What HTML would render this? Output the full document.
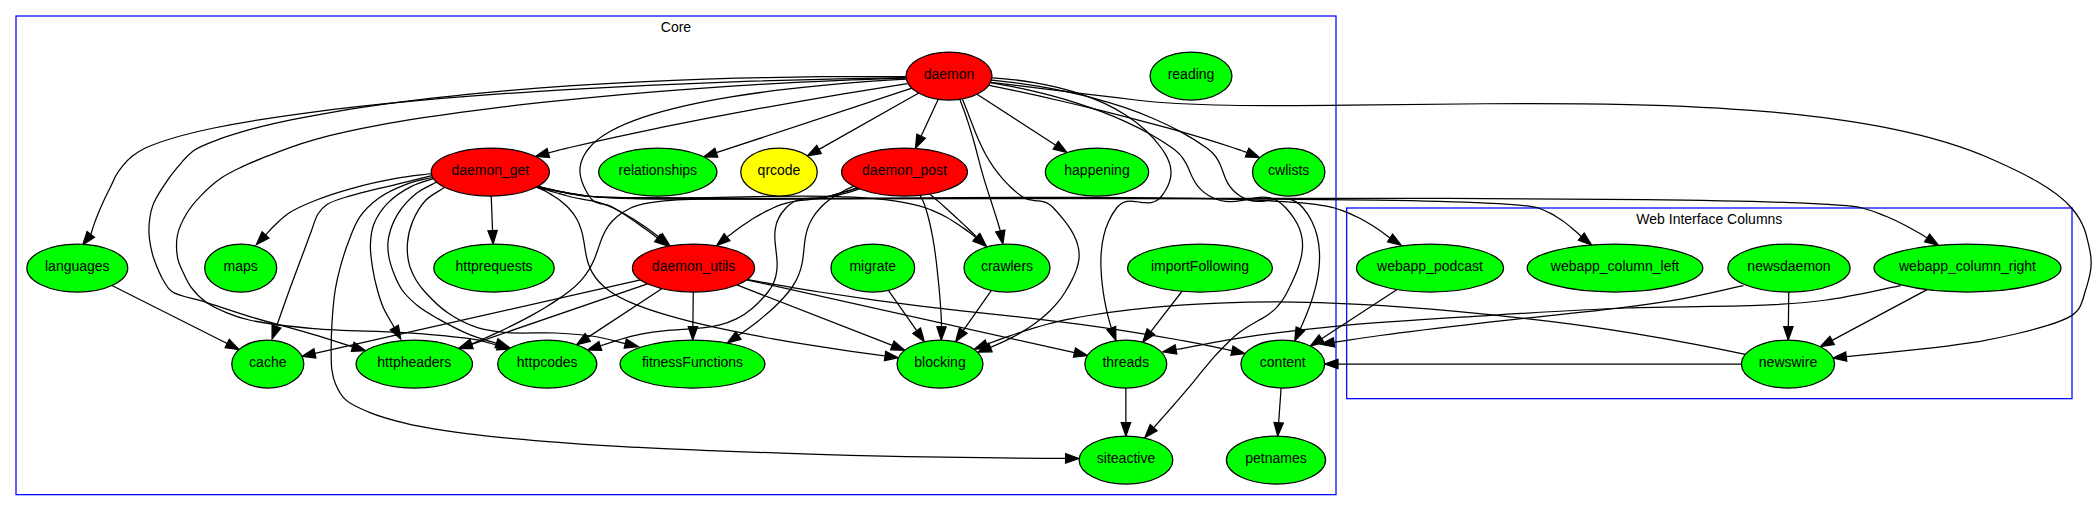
<!DOCTYPE html>
<html><head><meta charset="utf-8"><title>EpicyonGroups</title>
<style>html,body{margin:0;padding:0;background:#fff}svg{display:block}text{font-family:"Liberation Sans","DejaVu Sans",sans-serif;font-size:14px;fill:#000}</style></head>
<body>
<svg width="2097" height="511" viewBox="0 0 2097 511">
<rect width="2097" height="511" fill="#fff"/>
<rect x="16.00" y="16.00" width="1320.00" height="478.67" fill="none" stroke="#0000ff" stroke-width="1.25"/>
<text x="676.00" y="32.00" text-anchor="middle">Core</text>
<rect x="1346.67" y="208.00" width="725.33" height="190.67" fill="none" stroke="#0000ff" stroke-width="1.25"/>
<text x="1709.33" y="224.00" text-anchor="middle">Web Interface Columns</text>
<g fill="none" stroke="#000" stroke-width="1.25">
<path d="M1927.05,289.64 L1832.08,340.42"/>
<path d="M647.52,283.81 L471.59,344.30"/>
<path d="M693.25,292.00 L692.89,326.67"/>
<path d="M736.89,284.90 L892.31,345.43"/>
<path d="M662.12,288.59 L587.77,337.38"/>
<path d="M640.51,279.95 L314.91,353.38"/>
<path d="M747.66,279.57 C750.45,280.08 753.30,280.60 756.20,281.13 759.10,281.66 762.04,282.19 765.03,282.72 768.01,283.25 771.03,283.79 774.07,284.32 777.11,284.86 780.17,285.39 783.25,285.93 786.33,286.46 789.42,286.99 792.50,287.51 795.59,288.04 798.67,288.55 801.75,289.06 804.82,289.57 807.88,290.08 810.91,290.57 813.95,291.06 816.96,291.53 819.93,292.00 839.80,295.11 857.84,297.76 874.51,300.07 891.17,302.37 906.46,304.34 920.83,306.08 935.20,307.83 948.65,309.35 961.64,310.78 974.62,312.20 987.15,313.53 999.67,314.88 1012.19,316.23 1024.71,317.60 1037.68,319.12 1050.65,320.64 1064.08,322.31 1078.41,324.24 1092.75,326.17 1107.99,328.37 1124.60,330.95 1141.22,333.54 1159.20,336.51 1179.00,340.00 1181.15,340.38 1183.31,340.77 1185.49,341.17 1187.68,341.57 1189.87,341.98 1192.08,342.41 1194.29,342.83 1196.51,343.26 1198.73,343.70 1200.95,344.14 1203.17,344.59 1205.39,345.04 1207.61,345.49 1209.82,345.95 1212.02,346.41 1214.23,346.87 1216.42,347.33 1218.60,347.80 1220.78,348.26 1222.94,348.73 1225.07,349.19 1227.21,349.66 1229.32,350.12 1231.40,350.59"/>
<path d="M746.69,279.81 L1074.49,352.60"/>
<path d="M537.46,186.44 C539.30,186.92 541.17,187.39 543.07,187.87 544.96,188.34 546.88,188.80 548.83,189.26 550.77,189.72 552.73,190.17 554.71,190.61 556.69,191.05 558.69,191.48 560.69,191.89 562.69,192.31 564.71,192.71 566.72,193.09 568.74,193.48 570.76,193.84 572.78,194.19 574.80,194.54 576.82,194.86 578.83,195.16 580.85,195.47 582.85,195.75 584.84,196.00 594.86,197.28 612.92,198.08 637.01,198.55 661.10,199.02 691.22,199.16 725.34,199.10 759.46,199.05 797.58,198.80 837.68,198.51 877.78,198.21 919.86,197.87 961.90,197.62 1003.94,197.36 1045.93,197.20 1085.85,197.27 1125.77,197.34 1163.63,197.64 1197.39,198.32 1231.15,199.00 1260.82,200.05 1284.38,201.61 1307.94,203.18 1325.38,205.26 1334.68,208.00 1337.27,208.76 1339.83,209.62 1342.37,210.55 1344.91,211.49 1347.42,212.50 1349.89,213.59 1352.37,214.67 1354.81,215.82 1357.22,217.03 1359.63,218.24 1361.99,219.50 1364.32,220.81 1366.64,222.11 1368.92,223.46 1371.15,224.84 1373.38,226.22 1375.56,227.63 1377.69,229.06 1379.82,230.49 1381.89,231.94 1383.90,233.39 1385.92,234.84 1387.87,236.30 1389.76,237.75"/>
<path d="M537.46,186.51 C539.44,186.98 541.44,187.46 543.47,187.93 545.51,188.40 547.56,188.87 549.64,189.33 551.71,189.78 553.81,190.23 555.91,190.67 558.02,191.11 560.14,191.54 562.26,191.95 564.39,192.36 566.52,192.76 568.64,193.14 570.77,193.52 572.90,193.88 575.02,194.22 577.14,194.56 579.26,194.89 581.36,195.18 583.46,195.48 585.54,195.75 587.61,196.00 596.40,197.05 621.83,197.74 659.76,198.19 697.68,198.63 748.08,198.82 806.81,198.88 865.53,198.93 932.57,198.84 1003.77,198.72 1074.96,198.59 1150.31,198.44 1225.64,198.36 1300.97,198.28 1376.28,198.28 1447.42,198.46 1518.55,198.64 1585.50,199.01 1644.11,199.66 1702.71,200.32 1752.97,201.27 1790.72,202.63 1828.46,203.98 1853.69,205.74 1862.24,208.00 1865.09,208.75 1867.93,209.60 1870.77,210.53 1873.62,211.46 1876.45,212.47 1879.28,213.55 1882.10,214.63 1884.91,215.77 1887.70,216.98 1890.49,218.18 1893.25,219.44 1895.99,220.74 1898.72,222.05 1901.43,223.40 1904.09,224.77 1906.75,226.15 1909.37,227.56 1911.95,228.99 1914.52,230.42 1917.04,231.87 1919.51,233.32 1921.97,234.77 1924.38,236.23 1926.71,237.68"/>
<path d="M536.45,187.08 C537.73,187.45 539.03,187.83 540.33,188.21 541.63,188.58 542.94,188.96 544.25,189.34 545.56,189.72 546.87,190.09 548.19,190.47 549.51,190.85 550.83,191.23 552.14,191.60 553.46,191.98 554.78,192.36 556.09,192.73 557.40,193.10 558.71,193.47 560.01,193.84 561.31,194.21 562.61,194.57 563.90,194.93 565.18,195.29 566.46,195.65 567.73,196.00 570.25,196.70 572.55,197.27 574.69,197.75 576.83,198.24 578.81,198.63 580.67,198.97 582.54,199.32 584.29,199.61 585.98,199.89 587.67,200.17 589.30,200.44 590.93,200.73 592.55,201.02 594.16,201.34 595.81,201.73 597.47,202.12 599.16,202.57 600.95,203.12 602.73,203.68 604.61,204.33 606.64,205.13 608.66,205.93 610.83,206.88 613.19,208.00 615.20,208.96 617.22,209.97 619.23,211.02 621.24,212.07 623.25,213.17 625.25,214.31 627.25,215.44 629.24,216.62 631.21,217.82 633.19,219.02 635.15,220.25 637.09,221.51 639.03,222.76 640.96,224.03 642.85,225.32 644.75,226.61 646.63,227.91 648.47,229.22 650.31,230.53 652.13,231.84 653.90,233.15 655.68,234.47 657.42,235.78 659.13,237.08"/>
<path d="M491.22,196.00 L492.56,230.68"/>
<path d="M536.79,187.11 C538.25,187.75 539.70,188.43 541.15,189.13 542.60,189.83 544.04,190.55 545.47,191.31 546.89,192.06 548.31,192.84 549.71,193.65 551.10,194.46 552.48,195.30 553.84,196.16 555.19,197.03 556.52,197.93 557.82,198.85 559.12,199.78 560.39,200.73 561.62,201.72 562.85,202.70 564.05,203.72 565.20,204.76 566.36,205.81 567.47,206.89 568.53,208.00 571.96,211.57 574.58,215.17 576.61,218.77 578.65,222.37 580.11,225.99 581.20,229.60 582.32,233.21 583.07,236.82 583.67,240.42 584.32,244.02 584.82,247.60 585.40,251.16 586.03,254.72 586.74,258.26 587.74,261.76 588.80,265.26 590.16,268.72 592.01,272.14 593.92,275.56 596.31,278.93 599.38,282.24 602.49,285.56 606.26,288.81 610.90,292.00 616.51,295.82 623.72,299.51 632.22,303.08 640.74,306.64 650.53,310.08 661.26,313.37 672.01,316.67 683.69,319.82 695.97,322.83 708.26,325.84 721.15,328.70 734.31,331.41 747.47,334.11 760.90,336.67 774.28,339.05 787.65,341.44 800.97,343.66 813.92,345.72 826.86,347.77 839.44,349.65 851.31,351.35 863.18,353.05 874.36,354.57 884.53,355.91"/>
<path d="M537.46,186.48 C539.29,186.96 541.15,187.43 543.04,187.91 544.93,188.38 546.85,188.84 548.78,189.30 550.72,189.76 552.68,190.21 554.65,190.65 556.62,191.08 558.61,191.51 560.61,191.92 562.61,192.34 564.62,192.74 566.63,193.12 568.65,193.50 570.66,193.86 572.68,194.21 574.70,194.55 576.71,194.87 578.72,195.17 580.73,195.47 582.73,195.75 584.72,196.00 591.08,196.80 610.03,197.34 638.42,197.69 666.81,198.05 704.64,198.23 748.75,198.31 792.85,198.40 843.24,198.39 896.74,198.37 950.25,198.35 1006.87,198.32 1063.46,198.36 1120.04,198.41 1176.59,198.53 1229.93,198.82 1283.28,199.10 1333.43,199.55 1377.22,200.24 1421.01,200.93 1458.44,201.86 1486.35,203.13 1514.27,204.39 1532.67,205.99 1538.39,208.00 1540.48,208.74 1542.55,209.56 1544.57,210.46 1546.60,211.36 1548.59,212.33 1550.55,213.37 1552.50,214.41 1554.42,215.51 1556.29,216.66 1558.17,217.81 1560.00,219.02 1561.80,220.27 1563.59,221.52 1565.34,222.81 1567.05,224.13 1568.75,225.45 1570.41,226.80 1572.02,228.17 1573.64,229.54 1575.20,230.92 1576.72,232.32 1578.24,233.72 1579.70,235.12 1581.12,236.52"/>
<path d="M537.98,186.37 C539.94,186.84 541.92,187.32 543.93,187.78 545.94,188.25 547.98,188.71 550.03,189.16 552.08,189.62 554.15,190.07 556.23,190.50 558.31,190.94 560.40,191.37 562.50,191.79 564.60,192.20 566.70,192.61 568.80,192.99 570.90,193.38 573.00,193.75 575.10,194.11 577.19,194.46 579.27,194.80 581.35,195.12 583.42,195.43 585.48,195.73 587.51,196.00 596.83,197.24 608.00,197.98 620.55,198.36 633.10,198.75 647.03,198.79 661.87,198.63 676.72,198.47 692.47,198.11 708.67,197.72 724.87,197.32 741.51,196.89 758.12,196.56 774.73,196.24 791.32,196.03 807.40,196.09 823.49,196.15 839.07,196.47 853.69,197.22 868.31,197.97 881.96,199.14 894.18,200.88 906.39,202.63 917.16,204.95 926.03,208.00 928.30,208.78 930.55,209.65 932.79,210.59 935.03,211.53 937.26,212.55 939.46,213.62 941.66,214.70 943.84,215.85 946.00,217.04 948.16,218.24 950.29,219.48 952.38,220.77 954.48,222.05 956.55,223.38 958.57,224.74 960.60,226.09 962.59,227.47 964.54,228.87 966.49,230.27 968.39,231.69 970.25,233.11 972.10,234.54 973.91,235.96 975.67,237.39"/>
<path d="M1788.75,292.00 L1788.39,326.67"/>
<path d="M1745.24,354.39 C1731.46,351.47 1714.67,348.05 1695.37,344.39 1676.06,340.73 1654.22,336.82 1630.35,332.92 1606.42,329.01 1579.39,325.10 1549.88,321.45 1519.91,317.79 1488.31,314.38 1456.10,311.46 1424.19,308.54 1391.87,306.12 1359.54,304.44 1333.36,302.76 1311.83,301.82 1278.90,301.87 1245.37,301.92 1212.75,302.95 1180.47,305.23 1148.16,307.50 1116.51,311.01 1085.99,316.00 1081.82,316.68 1077.57,317.46 1073.13,318.33 1068.47,319.20 1063.85,320.16 1059.30,321.19 1054.83,322.23 1050.44,323.33 1046.21,324.49 1041.98,325.65 1037.77,326.87 1033.61,328.13 1029.44,329.39 1025.31,330.69 1021.24,332.02 1017.17,333.34 1013.18,334.70 1009.26,336.06 1005.35,337.42 1001.53,338.79 997.82,340.15 994.11,341.52 990.50,342.88 987.03,344.21"/>
<path d="M1741.39,364.00 L1338.00,364.00"/>
<path d="M111.94,285.45 L227.18,343.53"/>
<path d="M859.51,188.87 C858.50,189.22 857.49,189.57 856.46,189.91 855.43,190.25 854.39,190.59 853.35,190.92 852.30,191.26 851.25,191.58 850.19,191.90 849.14,192.22 848.07,192.53 847.00,192.84 845.93,193.14 844.86,193.44 843.78,193.72 842.70,194.01 841.62,194.28 840.54,194.55 839.45,194.81 838.37,195.07 837.28,195.31 836.19,195.55 835.10,195.78 834.02,196.00 828.86,197.03 822.34,197.72 814.81,198.19 807.29,198.66 798.76,198.89 789.58,199.00 780.40,199.11 770.57,199.08 760.44,199.02 750.31,198.97 739.88,198.88 729.52,198.85 719.15,198.82 708.84,198.87 698.94,199.07 689.04,199.28 679.55,199.64 670.83,200.28 662.12,200.91 654.17,201.80 647.34,203.05 640.52,204.31 634.82,205.93 630.61,208.00 625.19,210.67 620.80,213.51 617.18,216.50 613.57,219.49 610.73,222.62 608.43,225.87 606.12,229.13 604.33,232.50 602.84,235.97 601.32,239.43 600.07,243.00 598.86,246.63 597.60,250.26 596.36,253.97 594.90,257.72 593.38,261.46 591.62,265.26 589.39,269.07 587.10,272.89 584.35,276.72 580.93,280.55 577.47,284.38 573.34,288.21 568.32,292.00 564.76,294.68 561.03,297.31 557.19,299.88 553.34,302.45 549.37,304.96 545.32,307.41 541.27,309.87 537.13,312.25 532.95,314.58 528.77,316.90 524.55,319.16 520.31,321.35 516.08,323.53 511.84,325.65 507.63,327.69 503.42,329.73 499.24,331.70 495.12,333.59 491.00,335.48 486.95,337.29 482.98,339.02 479.02,340.75 475.16,342.40 471.42,343.96"/>
<path d="M853.51,186.33 C851.98,186.97 850.45,187.64 848.93,188.34 847.41,189.04 845.90,189.77 844.40,190.54 842.90,191.30 841.42,192.10 839.95,192.93 838.49,193.75 837.04,194.62 835.62,195.51 834.20,196.41 832.81,197.34 831.45,198.31 830.09,199.27 828.76,200.27 827.47,201.31 826.17,202.35 824.92,203.43 823.71,204.54 822.50,205.66 821.33,206.81 820.21,208.00 816.87,211.56 814.27,215.05 812.22,218.49 810.18,221.92 808.69,225.30 807.59,228.66 806.47,232.02 805.74,235.35 805.21,238.68 804.66,242.01 804.32,245.35 803.99,248.70 803.65,252.06 803.32,255.45 802.84,258.89 802.33,262.33 801.65,265.82 800.62,269.40 799.56,272.97 798.14,276.62 796.19,280.38 794.20,284.14 791.68,288.00 788.45,292.00 786.73,294.10 784.94,296.18 783.08,298.21 781.22,300.25 779.28,302.26 777.30,304.22 775.31,306.19 773.26,308.13 771.18,310.02 769.10,311.92 766.97,313.77 764.82,315.59 762.67,317.40 760.50,319.18 758.31,320.91 756.12,322.65 753.92,324.34 751.71,325.98 749.51,327.63 747.31,329.23 745.12,330.79 742.93,332.34 740.76,333.85 738.61,335.31"/>
<path d="M857.67,188.24 C856.53,188.58 855.38,188.92 854.23,189.26 853.08,189.60 851.92,189.94 850.76,190.28 849.60,190.62 848.44,190.95 847.28,191.28 846.11,191.62 844.95,191.95 843.79,192.27 842.62,192.60 841.46,192.93 840.30,193.25 839.14,193.57 837.99,193.88 836.83,194.19 835.68,194.50 834.53,194.81 833.39,195.11 832.25,195.41 831.12,195.71 829.99,196.00 826.86,196.81 823.98,197.43 821.30,197.93 818.62,198.43 816.14,198.81 813.80,199.11 811.46,199.41 809.25,199.63 807.11,199.84 804.98,200.04 802.92,200.23 800.87,200.44 798.83,200.66 796.79,200.91 794.70,201.25 792.62,201.58 790.48,202.00 788.23,202.56 785.99,203.12 783.63,203.82 781.09,204.71 778.56,205.59 775.85,206.68 772.91,208.00 770.88,208.91 768.86,209.88 766.85,210.90 764.83,211.92 762.82,212.99 760.83,214.11 758.84,215.22 756.85,216.37 754.89,217.56 752.93,218.75 750.98,219.97 749.05,221.22 747.13,222.47 745.23,223.74 743.35,225.03 741.48,226.32 739.63,227.62 737.82,228.94 736.00,230.25 734.22,231.58 732.47,232.90 730.73,234.23 729.02,235.55 727.35,236.87"/>
<path d="M920.11,195.33 C920.39,195.84 920.66,196.35 920.93,196.87 921.20,197.38 921.46,197.90 921.72,198.42 921.98,198.94 922.23,199.46 922.48,199.99 922.73,200.52 922.97,201.05 923.20,201.58 923.43,202.11 923.66,202.64 923.88,203.17 924.10,203.71 924.31,204.24 924.52,204.78 924.72,205.32 924.92,205.85 925.10,206.39 925.29,206.93 925.47,207.46 925.63,208.00 927.16,212.88 928.51,217.90 929.71,223.00 930.92,228.10 931.97,233.28 932.90,238.50 933.83,243.72 934.64,248.98 935.34,254.23 936.06,259.48 936.67,264.72 937.21,269.90 937.79,275.09 938.32,280.22 938.79,285.25 939.30,290.28 939.73,295.20 940.11,299.98 940.49,304.75 940.80,309.38 941.05,313.82 941.28,318.25 941.45,322.49 941.55,326.48"/>
<path d="M857.17,187.92 C856.03,188.26 854.90,188.60 853.76,188.95 852.62,189.29 851.47,189.63 850.33,189.98 849.18,190.32 848.03,190.66 846.88,191.01 845.73,191.35 844.59,191.69 843.44,192.03 842.29,192.37 841.15,192.71 840.01,193.04 838.86,193.38 837.73,193.72 836.59,194.05 835.46,194.38 834.33,194.71 833.21,195.03 832.09,195.36 830.97,195.68 829.87,196.00 827.44,196.70 825.15,197.19 822.97,197.53 820.79,197.87 818.74,198.07 816.77,198.20 814.80,198.32 812.92,198.37 811.11,198.42 809.30,198.48 807.56,198.53 805.86,198.65 804.16,198.76 802.50,198.95 800.86,199.28 799.22,199.62 797.60,200.09 795.97,200.77 794.34,201.46 792.70,202.35 791.04,203.53 789.37,204.72 787.67,206.18 785.91,208.00 782.59,211.45 780.20,214.91 778.50,218.38 776.81,221.85 775.82,225.33 775.30,228.82 774.77,232.31 774.72,235.81 774.90,239.32 775.08,242.82 775.51,246.34 775.93,249.85 776.36,253.36 776.79,256.88 777.00,260.40 777.21,263.92 777.19,267.44 776.74,270.95 776.36,274.47 775.59,277.98 774.19,281.49 772.84,285.00 770.86,288.50 767.99,292.00 762.64,298.66 757.40,304.07 752.17,308.47 746.96,312.88 741.70,316.28 736.34,318.93 730.98,321.59 725.51,323.49 719.88,324.90 714.26,326.30 708.48,327.21 702.50,327.87 696.53,328.52 690.36,328.94 683.94,329.35 677.53,329.77 670.87,330.19 663.93,330.86 656.98,331.54 649.75,332.47 642.18,333.91 634.61,335.35 626.69,337.29 618.37,340.00 617.65,340.24 616.92,340.47 616.18,340.71 615.45,340.95 614.71,341.19 613.96,341.44 613.22,341.68 612.48,341.92 611.73,342.16 610.98,342.41 610.23,342.65 609.48,342.90 608.72,343.14 607.97,343.39 607.21,343.64 606.46,343.88 605.70,344.13 604.94,344.38 604.18,344.63 603.42,344.87 602.66,345.12 601.90,345.37 601.15,345.62 600.39,345.87"/>
<path d="M930.07,194.35 C930.73,194.90 931.39,195.46 932.05,196.02 932.71,196.59 933.37,197.15 934.04,197.72 934.70,198.29 935.37,198.86 936.03,199.43 936.69,200.01 937.36,200.58 938.02,201.15 938.68,201.73 939.34,202.30 939.99,202.88 940.65,203.45 941.30,204.02 941.95,204.60 942.60,205.17 943.24,205.74 943.88,206.31 944.52,206.87 945.15,207.44 945.78,208.00 947.04,209.14 948.32,210.29 949.60,211.46 950.89,212.62 952.18,213.80 953.47,214.99 954.76,216.18 956.06,217.38 957.35,218.59 958.65,219.79 959.94,221.00 961.24,222.21 962.53,223.42 963.82,224.64 965.10,225.85 966.38,227.06 967.65,228.27 968.91,229.47 970.18,230.68 971.43,231.87 972.67,233.06 973.90,234.25 975.13,235.42 976.33,236.59"/>
<path d="M991.39,290.36 L963.24,330.71"/>
<path d="M905.69,76.69 C896.52,76.64 887.76,76.56 878.19,76.53 867.74,76.51 855.54,76.52 845.41,76.55 836.65,76.59 829.25,76.64 820.93,76.72 812.29,76.80 803.45,76.90 794.51,77.03 785.27,77.16 775.85,77.32 766.34,77.51 756.58,77.71 746.65,77.94 736.65,78.21 726.42,78.48 716.07,78.79 705.64,79.13 695.03,79.49 684.31,79.88 673.53,80.32 662.58,80.76 651.54,81.25 640.45,81.79 629.24,82.34 617.94,82.93 606.62,83.58 595.21,84.23 583.74,84.94 572.24,85.71 560.66,86.48 549.02,87.31 537.38,88.21 525.71,89.11 514.00,90.07 502.31,91.10 490.61,92.14 478.91,93.24 467.22,94.43 455.53,95.61 443.82,96.86 432.18,98.20 420.59,99.54 409.02,100.95 397.53,102.46 386.12,103.95 374.72,105.53 363.46,107.22 352.36,108.88 341.32,110.64 330.43,112.52 319.73,114.36 309.12,116.30 298.70,118.38 288.51,120.41 278.29,122.51 268.57,124.83 259.35,127.03 250.38,129.36 241.76,131.90 233.60,134.30 225.95,136.59 218.12,139.61 210.09,142.71 201.11,145.54 194.21,150.33 187.61,154.92 182.47,161.43 177.34,167.44 172.32,173.31 167.82,179.52 163.70,185.93 159.60,192.32 155.13,198.62 152.67,205.83 150.10,213.35 148.96,222.26 148.92,230.28 148.88,238.03 150.41,246.11 152.19,253.18 153.79,259.58 156.49,265.90 158.70,271.00 160.44,275.02 161.88,278.14 164.00,281.50 166.19,284.98 167.57,288.61 171.70,291.50 178.69,296.38 194.00,298.43 206.10,302.30 219.67,306.63 233.33,311.48 249.20,316.30 268.51,322.17 295.02,329.00 313.80,334.60 328.44,338.97 339.73,342.73 352.70,346.80"/>
<path d="M905.99,79.16 C895.14,79.74 882.66,80.50 869.04,81.47 855.43,82.44 840.69,83.62 825.32,85.07 809.95,86.51 793.96,88.21 777.83,90.21 761.71,92.21 745.46,94.51 729.59,97.15 713.72,99.79 698.22,102.78 683.60,106.14 668.99,109.51 655.24,113.27 642.88,117.45 630.51,121.63 619.52,126.24 610.41,131.31 601.28,136.39 594.03,141.94 589.14,148.00 587.47,150.06 586.05,152.07 584.86,154.05 583.66,156.03 582.70,157.98 581.95,159.91 581.20,161.84 580.67,163.76 580.35,165.67 580.02,167.58 579.90,169.49 579.96,171.41 580.03,173.34 580.29,175.27 580.72,177.23 581.16,179.19 581.77,181.18 582.55,183.21 583.32,185.24 584.26,187.31 585.36,189.44 586.45,191.56 587.69,193.75 589.08,196.00 589.89,197.32 590.72,198.39 591.58,199.28 592.44,200.16 593.32,200.86 594.24,201.42 595.15,201.98 596.09,202.41 597.06,202.75 598.04,203.08 599.04,203.34 600.08,203.56 601.11,203.78 602.18,203.97 603.28,204.18 604.38,204.39 605.52,204.62 606.69,204.92 607.86,205.22 609.07,205.59 610.31,206.09 611.56,206.58 612.84,207.20 614.16,208.00 616.00,209.11 617.84,210.26 619.70,211.43 621.55,212.60 623.40,213.79 625.26,215.01 627.11,216.23 628.96,217.47 630.81,218.72 632.66,219.98 634.50,221.25 636.33,222.53 638.15,223.80 639.97,225.09 641.77,226.38 643.57,227.67 645.35,228.96 647.12,230.25 648.88,231.55 650.62,232.83 652.33,234.11 654.04,235.39 655.73,236.66 657.38,237.92"/>
<path d="M907.52,83.60 C898.72,84.97 888.73,86.54 877.74,88.31 866.74,90.08 854.75,92.04 841.95,94.17 829.15,96.31 815.56,98.62 801.35,101.08 787.15,103.55 772.34,106.18 757.12,108.95 741.90,111.72 726.28,114.63 710.45,117.67 694.62,120.71 678.57,123.88 662.52,127.15 646.46,130.43 630.40,133.81 614.52,137.29 598.64,140.77 582.95,144.35 567.64,148.00 566.86,148.19 566.08,148.37 565.29,148.56 564.50,148.76 563.72,148.95 562.92,149.15 562.13,149.34 561.34,149.54 560.54,149.74 559.75,149.94 558.95,150.15 558.15,150.36 557.35,150.56 556.55,150.77 555.75,150.98 554.95,151.19 554.15,151.40 553.34,151.62 552.54,151.83 551.74,152.05 550.93,152.26 550.13,152.48 549.33,152.70 548.53,152.92"/>
<path d="M962.43,99.27 C963.99,103.05 965.65,107.18 967.36,111.54 969.02,115.89 970.76,120.48 972.58,125.17 974.40,129.87 976.34,134.67 978.39,139.47 980.52,144.26 982.82,149.05 985.26,153.71 987.85,158.37 990.61,162.91 993.50,167.20 996.56,171.49 999.75,175.53 1002.95,179.21 1006.29,182.89 1009.56,186.21 1012.65,189.05 1015.80,191.89 1018.71,194.24 1021.28,196.00 1022.89,197.09 1024.44,197.92 1025.94,198.55 1027.44,199.18 1028.88,199.62 1030.28,199.93 1031.67,200.24 1033.03,200.43 1034.35,200.56 1035.67,200.70 1036.96,200.79 1038.23,200.90 1039.50,201.01 1040.75,201.14 1041.99,201.37 1043.23,201.60 1044.47,201.93 1045.72,202.42 1046.97,202.92 1048.23,203.58 1049.51,204.49 1050.79,205.39 1052.11,206.54 1053.47,208.00 1057.10,211.88 1060.36,215.59 1063.25,219.18 1066.15,222.78 1068.66,226.26 1070.80,229.66 1072.91,233.06 1074.63,236.39 1075.98,239.68 1077.28,242.97 1078.19,246.23 1078.73,249.50 1079.19,252.78 1079.26,256.06 1078.94,259.39 1078.52,262.73 1077.69,266.12 1076.45,269.60 1075.18,273.08 1073.60,276.66 1071.73,280.38 1069.84,284.10 1067.65,287.96 1065.18,292.00 1063.12,295.36 1060.82,298.57 1058.33,301.65 1055.83,304.72 1053.15,307.66 1050.30,310.45 1047.46,313.25 1044.46,315.92 1041.35,318.45 1038.24,320.98 1035.01,323.38 1031.70,325.66 1028.40,327.94 1025.01,330.09 1021.59,332.13 1018.16,334.16 1014.69,336.07 1011.22,337.87 1007.74,339.67 1004.26,341.36 1000.81,342.93 997.36,344.51 993.94,345.97 990.57,347.33"/>
<path d="M905.65,78.17 C895.57,78.48 884.89,78.76 875.41,79.08 867.00,79.36 859.76,79.63 851.62,79.95 843.04,80.28 834.18,80.65 825.17,81.06 815.74,81.48 806.07,81.94 796.25,82.45 786.06,82.97 775.65,83.53 765.10,84.14 754.21,84.77 743.11,85.45 731.88,86.17 720.34,86.92 708.60,87.72 696.76,88.57 684.65,89.44 672.38,90.37 660.01,91.36 647.39,92.38 634.62,93.45 621.78,94.59 608.73,95.74 595.55,96.97 582.32,98.26 568.94,99.58 555.44,100.96 541.95,102.43 528.36,103.91 514.69,105.46 501.09,107.12 487.49,108.77 473.89,110.50 460.35,112.35 446.88,114.19 433.31,116.09 420.06,118.16 407.10,120.18 394.15,122.27 381.69,124.58 369.79,126.78 358.15,129.11 346.88,131.64 336.14,134.05 325.52,136.56 315.57,139.37 306.33,141.97 297.63,144.79 289.09,147.79 280.91,150.67 273.21,153.77 265.34,156.95 257.46,160.13 249.27,163.31 241.83,166.87 234.83,170.22 228.34,173.14 221.89,177.58 214.85,182.42 207.50,188.95 201.47,195.18 195.80,201.04 190.54,207.01 186.52,213.73 182.55,220.38 178.89,227.75 177.43,235.25 175.97,242.80 176.54,252.42 177.81,258.90 178.75,263.70 180.56,266.73 182.50,271.00 184.80,276.07 187.29,282.16 191.00,287.20 195.01,292.65 200.23,298.06 206.10,302.30 212.33,306.80 220.31,310.12 227.60,313.10 234.68,315.99 239.96,317.93 249.20,320.00 264.87,323.52 290.67,326.55 313.80,328.60 340.39,330.95 376.14,330.96 399.90,332.40 416.71,333.42 429.37,334.38 442.90,335.70 455.05,336.89 467.45,337.84 477.40,339.80 485.18,341.34 491.07,343.60 497.90,345.50"/>
<path d="M911.98,88.21 L716.33,152.71"/>
<path d="M990.73,82.37 C995.45,82.95 1000.48,83.57 1005.77,84.21 1011.05,84.86 1016.59,85.54 1022.33,86.24 1028.07,86.94 1034.01,87.67 1040.10,88.41 1046.18,89.15 1052.42,89.91 1058.75,90.68 1065.08,91.45 1071.50,92.23 1077.97,93.02 1084.44,93.80 1090.94,94.59 1097.44,95.38 1103.94,96.16 1110.42,96.94 1116.84,97.72 1123.26,98.49 1129.62,99.25 1135.86,100.00 1161.36,103.05 1193.03,104.59 1229.15,105.25 1265.27,105.91 1305.85,105.69 1349.16,105.23 1392.47,104.76 1438.53,104.06 1485.61,103.75 1532.69,103.43 1580.79,103.51 1628.21,104.62 1675.62,105.73 1722.35,107.87 1766.68,111.67 1811.01,115.47 1852.99,120.94 1890.95,128.70 1929.07,136.47 1963.44,146.54 1992.47,159.54 2021.96,172.55 2054.75,188.49 2071.62,208.00 2074.60,211.48 2077.12,214.95 2079.20,218.40 2081.26,221.86 2082.92,225.30 2084.21,228.75 2085.54,232.19 2086.53,235.63 2087.24,239.07 2088.18,242.51 2088.98,245.96 2089.59,249.42 2090.36,252.88 2090.86,256.35 2091.07,259.84 2091.29,263.34 2091.13,266.85 2090.59,270.39 2090.08,273.92 2089.28,277.49 2088.25,281.09 2087.33,284.69 2086.22,288.32 2084.98,292.00 2083.92,296.39 2082.68,300.55 2080.98,304.49 2079.63,308.42 2076.58,312.13 2071.72,315.62 2065.84,319.10 2057.60,322.37 2047.69,325.43 2037.63,328.49 2026.82,331.34 2015.57,333.99 2004.23,336.64 1992.48,339.08 1980.21,341.33 1965.94,343.58 1950.34,345.64 1934.40,347.51 1917.92,349.37 1901.92,351.05 1886.92,352.56 1872.08,354.06 1858.47,355.38 1846.35,356.53"/>
<path d="M918.77,93.07 L819.04,149.39"/>
<path d="M905.85,77.69 C888.20,77.91 865.76,78.25 839.67,78.81 813.56,79.36 783.80,80.12 751.48,81.17 719.14,82.22 684.23,83.56 647.85,85.26 611.42,86.96 573.50,89.03 535.17,91.54 496.78,94.05 457.99,97.01 419.90,100.49 381.81,103.96 344.52,107.96 309.24,112.56 274.22,117.16 241.56,122.36 212.73,128.24 184.88,134.12 161.73,140.68 145.32,148.00 140.55,150.38 136.22,153.07 132.39,156.02 128.81,158.96 125.66,162.16 122.87,165.55 120.12,168.94 117.52,172.51 115.53,176.22 113.82,179.93 112.01,183.77 110.10,187.68 108.08,191.59 106.16,195.58 104.33,199.57 102.44,203.56 100.67,207.56 99.02,211.51 97.35,215.47 95.84,219.37 94.48,223.16 93.15,226.95 91.99,230.63 91.00,234.15"/>
<path d="M938.23,99.23 L921.06,136.27"/>
<path d="M959.99,99.85 C960.66,101.56 961.35,103.34 962.05,105.17 962.74,107.01 963.44,108.89 964.13,110.83 964.83,112.76 965.52,114.74 966.21,116.75 966.89,118.76 967.57,120.80 968.25,122.87 968.92,124.93 969.58,127.02 970.23,129.12 970.88,131.22 971.51,133.33 972.13,135.44 972.76,137.55 973.36,139.66 973.95,141.75 974.53,143.85 975.10,145.94 975.64,148.00 976.55,151.41 977.45,154.88 978.36,158.40 979.29,161.92 980.24,165.48 981.19,169.07 982.20,172.66 983.23,176.27 984.28,179.87 985.39,183.48 986.51,187.08 987.64,190.65 988.80,194.23 989.95,197.77 991.09,201.27 992.24,204.77 993.36,208.21 994.44,211.58 995.53,214.95 996.56,218.24 997.54,221.44 998.51,224.63 999.42,227.72 1000.25,230.69"/>
<path d="M977.05,94.19 L1055.75,145.24"/>
<path d="M990.57,82.73 C996.52,83.71 1002.94,84.85 1009.75,86.17 1016.55,87.49 1023.73,89.00 1031.19,90.70 1038.64,92.41 1046.37,94.32 1054.27,96.46 1062.16,98.59 1070.23,100.95 1078.36,103.56 1086.49,106.16 1094.68,109.01 1102.83,112.13 1110.98,115.25 1119.10,118.64 1127.06,122.31 1135.03,125.99 1142.86,129.95 1150.43,134.23 1158.01,138.50 1165.34,143.08 1172.33,148.00 1175.07,149.93 1177.34,151.91 1179.25,153.93 1181.17,155.95 1182.74,158.00 1184.07,160.08 1185.41,162.15 1186.51,164.25 1187.50,166.34 1188.50,168.44 1189.38,170.54 1190.27,172.63 1191.17,174.72 1192.08,176.79 1193.12,178.84 1194.17,180.88 1195.36,182.90 1196.79,184.87 1198.23,186.84 1199.93,188.76 1201.99,190.62 1204.06,192.48 1206.49,194.28 1209.42,196.00 1213.18,198.20 1216.83,199.64 1220.38,200.51 1223.94,201.39 1227.40,201.70 1230.78,201.66 1234.16,201.62 1237.46,201.23 1240.69,200.69 1243.92,200.16 1247.08,199.48 1250.20,198.87 1253.31,198.25 1256.37,197.70 1259.40,197.43 1262.42,197.15 1265.40,197.15 1268.36,197.64 1271.32,198.12 1274.26,199.09 1277.19,200.74 1280.11,202.40 1283.03,204.75 1285.96,208.00 1289.17,211.55 1291.84,214.99 1294.05,218.36 1296.26,221.73 1297.99,225.03 1299.30,228.30 1300.61,231.57 1301.50,234.81 1302.01,238.06 1302.52,241.31 1302.66,244.56 1302.48,247.85 1302.29,251.15 1301.78,254.49 1301.00,257.92 1300.20,261.34 1299.13,264.85 1297.83,268.48 1296.50,272.11 1294.93,275.85 1293.17,279.76 1291.37,283.67 1289.39,287.74 1287.26,292.00 1285.42,295.64 1283.52,298.77 1281.56,301.49 1279.59,304.22 1277.57,306.54 1275.49,308.59 1273.41,310.63 1271.27,312.39 1269.06,313.99 1266.86,315.58 1264.60,317.01 1262.26,318.38 1259.93,319.76 1257.53,321.09 1255.05,322.49 1252.57,323.88 1250.02,325.34 1247.38,326.99 1244.75,328.64 1242.03,330.46 1239.24,332.59 1236.44,334.72 1233.57,337.15 1230.61,340.00 1227.43,343.08 1224.60,345.90 1222.03,348.52 1219.47,351.15 1217.17,353.59 1215.06,355.91 1212.96,358.22 1211.04,360.41 1209.22,362.55 1207.42,364.68 1205.70,366.76 1204.00,368.85 1202.30,370.94 1200.61,373.03 1198.85,375.21 1197.10,377.38 1195.28,379.64 1193.32,382.03 1191.36,384.43 1189.25,386.97 1186.94,389.72 1184.62,392.47 1182.08,395.43 1179.25,398.67 1178.23,399.83 1177.20,401.02 1176.16,402.20 1175.12,403.39 1174.07,404.59 1173.02,405.79 1171.96,407.00 1170.90,408.20 1169.83,409.42 1168.77,410.63 1167.70,411.84 1166.64,413.05 1165.57,414.26 1164.50,415.47 1163.44,416.68 1162.37,417.88 1161.31,419.09 1160.25,420.28 1159.20,421.48 1158.15,422.66 1157.11,423.84 1156.07,425.02 1155.03,426.18 1154.01,427.33"/>
<path d="M991.72,80.09 C998.54,80.77 1006.00,81.61 1013.95,82.65 1021.90,83.69 1030.35,84.94 1039.16,86.43 1047.96,87.92 1057.13,89.65 1066.52,91.66 1075.91,93.68 1085.51,95.97 1095.21,98.59 1104.90,101.21 1114.67,104.15 1124.39,107.45 1134.11,110.76 1143.78,114.42 1153.25,118.48 1162.73,122.55 1172.02,127.01 1180.98,131.92 1189.94,136.83 1198.59,142.17 1206.77,148.00 1209.41,149.87 1211.56,151.81 1213.35,153.78 1215.15,155.76 1216.58,157.78 1217.78,159.83 1218.98,161.88 1219.94,163.95 1220.79,166.04 1221.64,168.13 1222.37,170.22 1223.11,172.31 1223.85,174.40 1224.60,176.48 1225.48,178.54 1226.37,180.60 1227.38,182.64 1228.65,184.63 1229.91,186.63 1231.43,188.59 1233.32,190.49 1235.20,192.39 1237.46,194.23 1240.22,196.00 1243.22,197.93 1246.17,199.23 1249.07,200.06 1251.96,200.89 1254.80,201.25 1257.59,201.32 1260.38,201.39 1263.12,201.17 1265.82,200.83 1268.51,200.48 1271.15,200.02 1273.75,199.60 1276.35,199.18 1278.91,198.82 1281.43,198.67 1283.95,198.53 1286.43,198.61 1288.87,199.08 1291.31,199.55 1293.71,200.41 1296.09,201.84 1298.46,203.27 1300.80,205.27 1303.12,208.00 1306.69,212.21 1309.60,216.72 1311.92,221.45 1314.25,226.18 1315.99,231.13 1317.23,236.24 1318.45,241.34 1319.16,246.60 1319.44,251.94 1319.71,257.27 1319.53,262.68 1318.99,268.10 1318.42,273.52 1317.48,278.95 1316.25,284.30 1315.01,289.66 1313.49,294.94 1311.80,300.09 1310.10,305.24 1308.24,310.25 1306.30,315.04 1304.37,319.83 1302.37,324.41 1300.39,328.71"/>
<path d="M992.08,77.81 C998.33,78.21 1005.06,78.77 1012.12,79.55 1019.19,80.33 1026.59,81.33 1034.18,82.61 1041.78,83.89 1049.56,85.45 1057.40,87.34 1065.24,89.24 1073.14,91.47 1080.94,94.09 1088.75,96.71 1096.46,99.72 1103.95,103.18 1111.43,106.64 1118.69,110.56 1125.57,114.97 1132.46,119.39 1138.97,124.31 1144.97,129.80 1150.98,135.28 1156.47,141.33 1161.31,148.00 1162.88,150.16 1164.26,152.27 1165.46,154.34 1166.65,156.40 1167.66,158.43 1168.47,160.42 1169.28,162.42 1169.90,164.39 1170.32,166.34 1170.75,168.29 1170.98,170.22 1171.01,172.15 1171.04,174.08 1170.87,176.01 1170.50,177.95 1170.13,179.88 1169.57,181.83 1168.79,183.80 1168.02,185.77 1167.05,187.76 1165.87,189.79 1164.68,191.82 1163.30,193.89 1161.70,196.00 1160.14,198.06 1158.46,199.54 1156.69,200.58 1154.91,201.62 1153.05,202.22 1151.13,202.52 1149.21,202.83 1147.23,202.84 1145.21,202.70 1143.20,202.56 1141.16,202.28 1139.11,202.00 1137.07,201.72 1135.03,201.44 1133.01,201.30 1131.00,201.16 1129.02,201.17 1127.10,201.48 1125.17,201.78 1123.31,202.38 1121.54,203.42 1119.77,204.46 1118.09,205.94 1116.53,208.00 1113.32,212.26 1110.68,216.80 1108.55,221.54 1106.43,226.29 1104.80,231.24 1103.62,236.33 1102.42,241.42 1101.66,246.65 1101.25,251.95 1100.84,257.25 1100.78,262.61 1101.00,267.98 1101.18,273.35 1101.61,278.72 1102.21,284.02 1102.78,289.32 1103.54,294.55 1104.45,299.64 1105.35,304.74 1106.40,309.69 1107.55,314.44 1108.71,319.18 1109.98,323.72 1111.29,327.99"/>
<path d="M989.24,85.31 C996.20,86.74 1003.91,88.36 1012.23,90.14 1020.56,91.92 1029.50,93.87 1038.94,95.97 1048.37,98.08 1058.29,100.34 1068.58,102.74 1078.87,105.15 1089.52,107.69 1100.40,110.37 1111.28,113.05 1122.40,115.85 1133.63,118.78 1144.85,121.71 1156.18,124.75 1167.49,127.90 1178.80,131.06 1190.08,134.32 1201.22,137.67 1212.36,141.02 1223.34,144.47 1234.05,148.00 1234.58,148.17 1235.10,148.35 1235.63,148.53 1236.16,148.71 1236.69,148.89 1237.22,149.07 1237.75,149.25 1238.28,149.44 1238.82,149.62 1239.35,149.81 1239.88,150.00 1240.42,150.19 1240.95,150.38 1241.49,150.58 1242.02,150.77 1242.56,150.97 1243.10,151.16 1243.63,151.36 1244.17,151.56 1244.71,151.76 1245.25,151.96 1245.78,152.16 1246.32,152.37 1246.86,152.57"/>
<path d="M888.39,290.27 L916.71,330.73"/>
<path d="M1281.10,387.98 L1278.64,422.72"/>
<path d="M1125.85,388.00 L1125.92,422.67"/>
<path d="M1182.03,291.25 L1150.85,331.59"/>
<path d="M1397.09,289.46 L1321.61,338.69"/>
<path d="M432.60,173.50 C420.87,175.07 409.93,175.96 397.40,178.20 382.81,180.81 364.84,184.78 350.40,188.80 337.73,192.33 325.95,196.17 315.20,200.50 305.69,204.33 296.26,208.25 289.00,213.00 282.99,216.93 278.21,221.97 274.00,226.00 270.67,229.19 268.33,232.00 265.50,235.00"/>
<path d="M433.80,175.20 C421.67,178.17 410.30,180.92 397.40,184.10 382.73,187.72 363.27,191.82 350.40,195.80 341.16,198.66 332.68,200.75 327.00,204.50 322.89,207.22 320.51,210.03 318.00,214.00 314.95,218.82 313.35,225.82 311.00,232.00 308.52,238.53 306.39,244.42 303.50,252.20 299.54,262.84 293.94,277.49 289.40,290.00 284.95,302.25 280.80,314.33 276.50,326.50"/>
<path d="M433.80,177.00 C424.80,179.37 415.73,180.74 406.80,184.10 397.32,187.67 386.66,192.41 378.60,198.20 371.21,203.51 364.84,209.63 359.80,216.90 354.58,224.42 351.44,234.08 348.10,242.80 344.84,251.31 342.11,260.35 339.90,268.60 337.91,276.02 336.46,281.98 335.20,290.00 333.62,300.07 332.56,313.26 331.90,324.40 331.28,334.89 331.10,346.60 331.20,355.00 331.27,360.88 331.17,365.15 331.90,370.00 332.60,374.71 333.45,379.13 335.40,383.70 337.64,388.93 340.46,394.94 345.20,399.40 350.90,404.75 359.65,408.35 368.70,412.10 379.88,416.74 393.32,420.44 407.80,423.80 425.29,427.86 445.56,430.80 466.60,433.60 490.76,436.82 518.71,439.22 544.80,441.40 570.87,443.58 596.31,445.19 623.10,446.70 651.30,448.29 677.59,449.32 710.00,450.60 751.13,452.23 802.52,454.19 850.00,455.40 899.13,456.65 960.19,457.42 1000.00,457.90 1026.32,458.22 1043.73,458.23 1065.60,458.40"/>
<path d="M434.90,178.20 C427.10,180.93 419.05,182.52 411.50,186.40 403.38,190.57 394.37,196.38 388.00,202.90 382.01,209.03 376.81,216.64 373.90,224.00 371.23,230.76 370.64,237.86 370.40,245.10 370.15,252.71 371.50,260.98 372.70,268.60 373.86,275.94 375.51,283.22 377.40,290.00 379.16,296.31 380.85,302.00 383.50,308.00 386.37,314.50 390.70,321.00 394.30,327.50"/>
<path d="M437.30,181.70 C430.27,185.63 422.64,188.33 416.20,193.50 409.24,199.09 402.06,206.91 397.40,214.60 393.01,221.85 389.83,230.86 388.50,238.10 387.43,243.95 387.73,248.90 388.50,254.50 389.34,260.61 391.49,267.32 393.80,273.30 396.05,279.14 398.36,284.77 402.10,290.00 406.22,295.75 412.08,301.24 418.00,306.00 424.11,310.91 430.68,314.58 438.30,318.90 447.49,324.11 459.41,330.42 469.60,334.60 478.76,338.35 487.53,340.40 496.50,343.30"/>
<path d="M444.30,187.60 C438.03,191.90 430.72,195.00 425.50,200.50 420.06,206.23 415.62,214.31 412.60,221.60 409.77,228.44 408.07,235.70 407.50,242.80 406.94,249.80 407.50,257.43 409.10,263.90 410.57,269.84 413.41,275.50 416.20,280.30 418.67,284.55 420.85,287.35 424.60,291.50 430.26,297.76 439.37,307.09 448.10,313.10 456.94,319.19 467.38,324.45 477.40,327.70 486.97,330.80 495.72,331.64 506.80,332.60 521.00,333.83 540.31,332.25 555.70,333.00 569.50,333.67 582.73,334.54 594.90,336.50 605.74,338.24 615.17,341.23 625.30,343.60"/>
<path d="M1743.40,285.70 C1723.37,290.00 1703.15,294.98 1683.30,298.60 1664.03,302.11 1649.43,304.16 1626.00,307.20 1589.08,312.00 1526.75,317.82 1483.00,322.90 1445.84,327.21 1407.49,331.79 1380.00,335.50 1361.60,337.99 1349.33,340.03 1334.00,342.30"/>
<path d="M1900.80,285.70 C1876.00,290.47 1849.67,296.78 1826.40,300.00 1806.11,302.81 1792.45,303.65 1769.00,304.90 1732.05,306.88 1673.65,306.18 1626.00,308.00 1578.32,309.82 1530.66,312.83 1483.00,315.80 1435.32,318.77 1382.71,321.74 1340.00,325.80 1305.18,329.11 1274.44,332.88 1245.40,337.20 1220.42,340.92 1199.13,345.40 1176.00,349.50"/>
</g>
<g fill="#000" stroke="#000" stroke-width="1.25">
<polygon points="1829.88,336.31 1820.33,346.71 1834.29,344.54"/>
<polygon points="470.07,339.89 458.98,348.64 473.11,348.72"/>
<polygon points="688.22,326.62 692.75,340.00 697.56,326.72"/>
<polygon points="890.62,349.78 904.74,350.27 894.01,341.08"/>
<polygon points="585.21,333.47 576.63,344.69 590.34,341.28"/>
<polygon points="313.88,348.82 301.90,356.31 315.93,357.93"/>
<polygon points="1232.93,346.15 1244.91,353.63 1230.88,355.25 1232.93,346.15"/>
<polygon points="1073.47,357.16 1087.50,355.49 1075.50,348.05"/>
<polygon points="1392.63,234.04 1401.24,245.24 1387.53,241.87 1392.63,234.04"/>
<polygon points="1929.67,234.03 1938.35,245.17 1924.62,241.88 1929.67,234.03"/>
<polygon points="662.30,233.64 669.81,245.61 656.49,240.93 662.30,233.64"/>
<polygon points="487.90,230.86 493.08,244.00 497.23,230.50"/>
<polygon points="885.63,351.35 898.25,357.69 884.43,360.60 885.63,351.35"/>
<polygon points="1584.19,232.99 1591.69,244.96 1578.36,240.28 1584.19,232.99"/>
<polygon points="979.07,234.15 986.24,246.32 973.04,241.28 979.07,234.15"/>
<polygon points="1783.72,326.62 1788.25,340.00 1793.06,326.72"/>
<polygon points="988.54,348.63 974.42,349.15 985.14,339.95 988.54,348.63"/>
<polygon points="1338.00,359.33 1324.67,364.00 1338.00,368.67"/>
<polygon points="225.08,347.70 239.08,349.53 229.28,339.36"/>
<polygon points="472.75,348.44 458.62,348.47 469.65,339.64 472.75,348.44"/>
<polygon points="741.02,339.31 727.35,342.87 735.82,331.56 741.02,339.31"/>
<polygon points="729.97,240.76 716.67,245.51 724.10,233.49 729.97,240.76"/>
<polygon points="946.20,326.76 941.27,339.99 936.87,326.56 946.20,326.76"/>
<polygon points="601.67,350.36 587.55,349.89 598.87,341.45 601.67,350.36"/>
<polygon points="979.97,233.60 986.31,246.23 973.48,240.32 979.97,233.60"/>
<polygon points="959.41,328.03 955.61,341.64 967.07,333.38"/>
<polygon points="351.30,351.26 365.42,350.79 354.10,342.34"/>
<polygon points="660.30,234.28 668.06,246.08 654.63,241.69 660.30,234.28"/>
<polygon points="549.58,157.47 535.49,156.59 547.06,148.48 549.58,157.47"/>
<polygon points="992.07,351.76 977.95,352.16 988.73,343.04 992.07,351.76"/>
<polygon points="496.65,350.00 510.74,349.07 499.15,341.00"/>
<polygon points="714.87,148.27 703.67,156.88 717.79,157.14"/>
<polygon points="1846.77,361.17 1832.97,358.12 1845.67,351.91 1846.77,361.17"/>
<polygon points="816.74,145.32 807.43,155.94 821.34,153.46"/>
<polygon points="94.48,237.28 82.68,245.05 87.05,231.63 94.48,237.28"/>
<polygon points="916.82,134.31 915.46,148.37 925.30,138.24"/>
<polygon points="1004.88,230.04 1002.91,244.03 995.72,231.87 1004.88,230.04"/>
<polygon points="1053.21,149.16 1066.93,152.50 1058.29,141.32"/>
<polygon points="1157.19,430.77 1144.83,437.63 1150.21,424.57 1157.19,430.77"/>
<polygon points="1304.57,330.77 1294.72,340.89 1296.11,326.83 1304.57,330.77"/>
<polygon points="1115.69,326.44 1115.93,340.56 1106.95,329.67 1115.69,326.44"/>
<polygon points="1248.85,148.33 1259.50,157.61 1245.38,157.01 1248.85,148.33"/>
<polygon points="912.88,333.40 924.35,341.65 920.53,328.05"/>
<polygon points="1273.98,422.39 1277.70,436.01 1283.30,423.05"/>
<polygon points="1121.25,422.68 1125.95,436.00 1130.59,422.66"/>
<polygon points="1147.15,328.73 1142.70,342.14 1154.54,334.45"/>
<polygon points="1319.05,334.78 1310.44,345.97 1324.16,342.60"/>
<polygon points="262.10,231.79 256.35,244.69 268.90,238.21"/>
<polygon points="272.10,324.94 272.06,339.07 280.90,328.06"/>
<polygon points="1065.56,463.07 1078.93,458.50 1065.64,453.73"/>
<polygon points="390.21,329.76 400.76,339.16 398.39,325.24"/>
<polygon points="495.06,347.74 509.18,347.40 497.94,338.86"/>
<polygon points="624.24,348.15 638.28,346.63 626.36,339.05"/>
<polygon points="1333.32,337.68 1320.81,344.25 1334.68,346.92"/>
<polygon points="1175.19,344.90 1162.87,351.83 1176.81,354.10"/>
</g>
<ellipse cx="414.30" cy="364.00" rx="58.16" ry="24.00" fill="#00ff00" stroke="#000" stroke-width="1.25"/>
<text x="414.30" y="366.83" text-anchor="middle">httpheaders</text>
<ellipse cx="692.50" cy="364.00" rx="72.41" ry="24.00" fill="#00ff00" stroke="#000" stroke-width="1.25"/>
<text x="692.50" y="366.83" text-anchor="middle">fitnessFunctions</text>
<ellipse cx="1615.00" cy="268.00" rx="87.81" ry="24.00" fill="#00ff00" stroke="#000" stroke-width="1.25"/>
<text x="1615.00" y="270.83" text-anchor="middle">webapp_column_left</text>
<ellipse cx="1967.50" cy="268.00" rx="93.47" ry="24.00" fill="#00ff00" stroke="#000" stroke-width="1.25"/>
<text x="1967.50" y="270.83" text-anchor="middle">webapp_column_right</text>
<ellipse cx="1788.00" cy="364.00" rx="46.61" ry="24.00" fill="#00ff00" stroke="#000" stroke-width="1.25"/>
<text x="1788.00" y="366.83" text-anchor="middle">newswire</text>
<ellipse cx="1282.80" cy="364.00" rx="41.87" ry="24.00" fill="#00ff00" stroke="#000" stroke-width="1.25"/>
<text x="1282.80" y="366.83" text-anchor="middle">content</text>
<ellipse cx="693.50" cy="268.00" rx="61.11" ry="24.00" fill="#ff0000" stroke="#000" stroke-width="1.25"/>
<text x="693.50" y="270.83" text-anchor="middle">daemon_utils</text>
<ellipse cx="940.00" cy="364.00" rx="43.00" ry="24.00" fill="#00ff00" stroke="#000" stroke-width="1.25"/>
<text x="940.00" y="366.83" text-anchor="middle">blocking</text>
<ellipse cx="547.20" cy="364.00" rx="49.56" ry="24.00" fill="#00ff00" stroke="#000" stroke-width="1.25"/>
<text x="547.20" y="366.83" text-anchor="middle">httpcodes</text>
<ellipse cx="267.80" cy="364.00" rx="36.00" ry="24.00" fill="#00ff00" stroke="#000" stroke-width="1.25"/>
<text x="267.80" y="366.83" text-anchor="middle">cache</text>
<ellipse cx="1125.80" cy="364.00" rx="40.96" ry="24.00" fill="#00ff00" stroke="#000" stroke-width="1.25"/>
<text x="1125.80" y="366.83" text-anchor="middle">threads</text>
<ellipse cx="490.30" cy="172.00" rx="59.07" ry="24.00" fill="#ff0000" stroke="#000" stroke-width="1.25"/>
<text x="490.30" y="174.83" text-anchor="middle">daemon_get</text>
<ellipse cx="494.00" cy="268.00" rx="60.20" ry="24.00" fill="#00ff00" stroke="#000" stroke-width="1.25"/>
<text x="494.00" y="270.83" text-anchor="middle">httprequests</text>
<ellipse cx="1430.00" cy="268.00" rx="73.56" ry="24.00" fill="#00ff00" stroke="#000" stroke-width="1.25"/>
<text x="1430.00" y="270.83" text-anchor="middle">webapp_podcast</text>
<ellipse cx="240.70" cy="268.00" rx="36.00" ry="24.00" fill="#00ff00" stroke="#000" stroke-width="1.25"/>
<text x="240.70" y="270.83" text-anchor="middle">maps</text>
<ellipse cx="1007.00" cy="268.00" rx="43.00" ry="24.00" fill="#00ff00" stroke="#000" stroke-width="1.25"/>
<text x="1007.00" y="270.83" text-anchor="middle">crawlers</text>
<ellipse cx="1126.00" cy="460.00" rx="46.85" ry="24.00" fill="#00ff00" stroke="#000" stroke-width="1.25"/>
<text x="1126.00" y="462.83" text-anchor="middle">siteactive</text>
<ellipse cx="1191.00" cy="76.00" rx="40.96" ry="24.00" fill="#00ff00" stroke="#000" stroke-width="1.25"/>
<text x="1191.00" y="78.83" text-anchor="middle">reading</text>
<ellipse cx="1789.00" cy="268.00" rx="61.11" ry="24.00" fill="#00ff00" stroke="#000" stroke-width="1.25"/>
<text x="1789.00" y="270.83" text-anchor="middle">newsdaemon</text>
<ellipse cx="657.80" cy="172.00" rx="59.07" ry="24.00" fill="#00ff00" stroke="#000" stroke-width="1.25"/>
<text x="657.80" y="174.83" text-anchor="middle">relationships</text>
<ellipse cx="779.00" cy="172.00" rx="38.25" ry="24.00" fill="#ffff00" stroke="#000" stroke-width="1.25"/>
<text x="779.00" y="174.83" text-anchor="middle">qrcode</text>
<ellipse cx="77.30" cy="268.00" rx="50.47" ry="24.00" fill="#00ff00" stroke="#000" stroke-width="1.25"/>
<text x="77.30" y="270.83" text-anchor="middle">languages</text>
<ellipse cx="904.50" cy="172.00" rx="62.92" ry="24.00" fill="#ff0000" stroke="#000" stroke-width="1.25"/>
<text x="904.50" y="174.83" text-anchor="middle">daemon_post</text>
<ellipse cx="949.00" cy="76.00" rx="43.00" ry="24.00" fill="#ff0000" stroke="#000" stroke-width="1.25"/>
<text x="949.00" y="78.83" text-anchor="middle">daemon</text>
<ellipse cx="1097.00" cy="172.00" rx="51.60" ry="24.00" fill="#00ff00" stroke="#000" stroke-width="1.25"/>
<text x="1097.00" y="174.83" text-anchor="middle">happening</text>
<ellipse cx="1288.70" cy="172.00" rx="36.21" ry="24.00" fill="#00ff00" stroke="#000" stroke-width="1.25"/>
<text x="1288.70" y="174.83" text-anchor="middle">cwlists</text>
<ellipse cx="872.80" cy="268.00" rx="41.87" ry="24.00" fill="#00ff00" stroke="#000" stroke-width="1.25"/>
<text x="872.80" y="270.83" text-anchor="middle">migrate</text>
<ellipse cx="1276.00" cy="460.00" rx="49.56" ry="24.00" fill="#00ff00" stroke="#000" stroke-width="1.25"/>
<text x="1276.00" y="462.83" text-anchor="middle">petnames</text>
<ellipse cx="1200.00" cy="268.00" rx="72.41" ry="24.00" fill="#00ff00" stroke="#000" stroke-width="1.25"/>
<text x="1200.00" y="270.83" text-anchor="middle">importFollowing</text>
</svg>
</body></html>
